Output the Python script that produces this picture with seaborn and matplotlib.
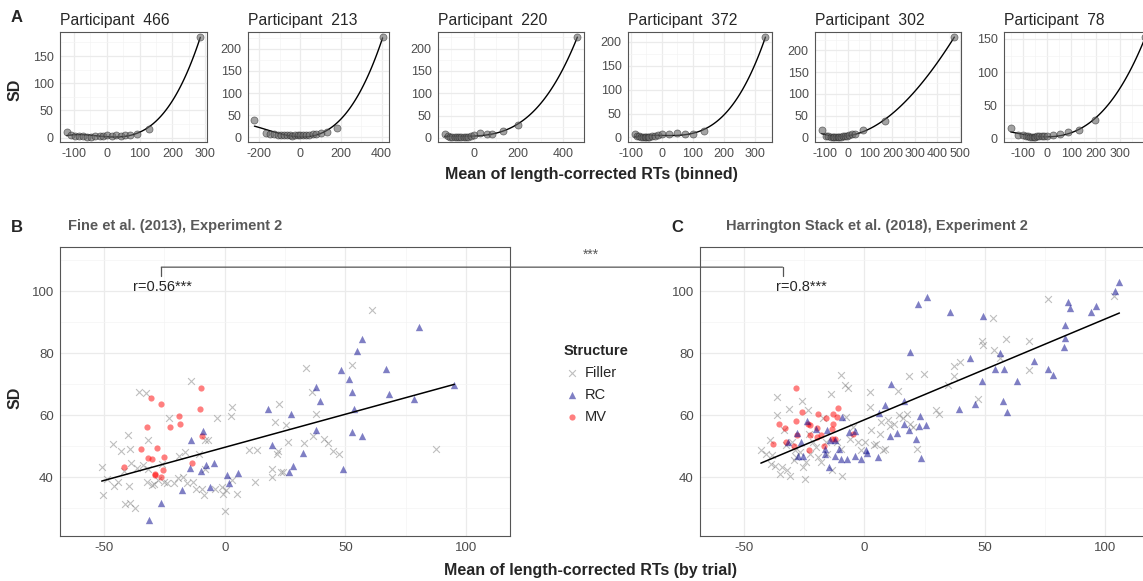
import seaborn as sns
import matplotlib.pyplot as plt
import pandas as pd
from matplotlib.patches import ConnectionPatch
from matplotlib.ticker import MultipleLocator, FixedLocator

# ---- panel A: binned mean RT vs SD, one panel per participant ----
participants = ["466", "213", "220", "372", "302", "78"]

p466_x = [-122, -110, -98, -85, -72, -60, -48, -35, -22, -10, 2, 15, 28, 42, 56, 72, 93, 128, 285]
p466_y = [10, 4, 3, 3, 3, 2, 2, 3, 3, 3, 4, 3, 4, 3, 4, 5, 7, 15, 185]

p213_x = [-225, -170, -150, -130, -110, -95, -80, -65, -50, -38, -25, -12, 0, 15, 30, 45, 62, 80, 100, 130, 180, 405]
p213_y = [38, 9, 7, 6, 5, 5, 4, 4, 4, 3, 4, 4, 4, 5, 5, 5, 6, 7, 9, 11, 20, 227]

p220_x = [-130, -115, -105, -95, -85, -75, -65, -55, -45, -35, -25, -12, 0, 30, 58, 82, 130, 198, 465]
p220_y = [9, 4, 3, 2, 2, 2, 2, 2, 2, 3, 3, 4, 6, 10, 8, 9, 16, 28, 226]

p372_x = [-88, -80, -73, -66, -60, -55, -50, -45, -40, -32, -22, -12, 0, 22, 50, 75, 100, 135, 333]
p372_y = [7, 4, 3, 2, 2, 1, 1, 2, 2, 3, 4, 5, 7, 7, 9, 7, 7, 14, 210]

p302_x = [-115, -95, -85, -75, -65, -58, -50, -43, -36, -28, -20, -12, -4, 8, 20, 35, 70, 165, 475]
p302_y = [16, 3, 3, 2, 2, 2, 1, 1, 2, 2, 3, 3, 4, 5, 7, 9, 17, 38, 231]

p78_x = [-150, -118, -100, -88, -78, -70, -62, -55, -48, -40, -32, -22, -12, 0, 24, 54, 86, 131, 197, 404]
p78_y = [15, 5, 5, 4, 3, 2, 2, 2, 2, 3, 3, 3, 4, 4, 5, 7, 9, 12, 27, 153]

# ---- panel B: Fine et al. (2013), by-trial mean vs SD ----
B_filler_x = [-51, -50.3, -48.9, -46.5, -46.1, -44.3, -43.1, -41.7, -41.3, -40.2, -39.6, -39.4, -39.2, -38.8,
              -37.2, -36.2, -35.6, -33.7, -32.6, -32.2, -32, -31.8, -30.2, -29.3, -27.8, -25.8, -25, -24,
              -23.1, -21, -19.5, -18.8, -17.1, -16.4, -15.5, -14.1, -13.3, -11.9, -10.6, -9.5, -8.7, -8.1,
              -6.8, -8, -4.1, -3, -1.2, -0.6, 0, 0.6, 2.9, 2.6, 3.2, 5.1, 10.2, 12.4, 13.3, 19.8, 19.8, 20.9,
              21.5, 22, 22.7, 23.2, 24.3, 25.4, 26.2, 33, 33.6, 36.2, 36.7, 37.8, 41.2, 42.7, 44.9, 47.2,
              52.8, 61, 87.8]
B_filler_y = [43.2, 34.1, 39.5, 50.7, 37, 38.4, 48.4, 42, 31.4, 53.5, 37, 48.9, 31.6, 44.5,
              30.1, 43, 67.5, 43.8, 67.2, 38.4, 51.9, 42.7, 37.3, 37.8, 38.9, 44.1, 38.4, 38,
              59, 38, 39.8, 46.8, 40.1, 48.1, 38, 71, 38.4, 36.2, 47.3, 36.2, 34.1, 51.9,
              51.9, 42.7, 36.2, 59.2, 36.8, 34.6, 29, 35.7, 62.6, 59.7, 38.9, 34.5, 48.6, 38.3, 48.8, 42.7, 39.9, 57.8,
              47.3, 48.3, 63.5, 41.6, 41.6, 56.8, 51.3, 51, 75.3, 67.3, 53.4, 60.3, 52.2, 51, 48.4, 47.5,
              76.1, 93.9, 49.2]
B_rc_x = [-31.2, -26.5, -17.7, -13.8, -14.2, -9.9, -9.1, -7.6, -4.6, -6.2, 0.8, 1.8, 5.5, 18, 19.8, 27.6,
          26.7, 28.3, 32.6, 37.8, 39.6, 37.8, 48.2, 48.9, 51.4, 52.6, 54.8, 56.8, 53.7, 52.6, 57, 66.9,
          68.1, 78.6, 80.7, 95.2]
B_rc_y = [26, 31.5, 35.7, 51.9, 43, 41.9, 54.8, 44, 44.6, 36.7, 40.8, 38, 41.4, 61.8, 50.2, 60.2,
          41.5, 43.7, 47.8, 69, 64.5, 55.1, 74.5, 42.7, 71.6, 67.6, 80.7, 84.4, 61.8, 54.4, 53.3, 75,
          66.7, 65.3, 88.3, 69.6]
B_mv_x = [-30.5, -26.5, -18.8, -18.5, -22.5, -32.2, -10.4, -9.7, -9.4, -34.7, -27.9, -32, -30, -25.3,
          -41.6, -13.5, -25.4, -29.1, -28.7, -26.5]
B_mv_y = [65.6, 63.6, 59.8, 57.1, 56.1, 56, 61.8, 68.6, 53.3, 48.9, 49.5, 46.1, 45.8, 46.5,
          43.3, 44.5, 42.4, 41.1, 40.8, 39.9]

# ---- panel C: Harrington Stack et al. (2018) ----
C_filler_x = [-43, -40.9, -39.2, -38.7, -38.3, -37.2, -36.2, -36.2, -35.1, -34.1, -33.4, -32.6, -32.3, -31.4,
              -30.7, -30.1, -29.4, -28.9, -28.2, -26.8, -26.1, -25.4, -24.7, -24.4, -23.3, -23.1, -22.7,
              -21.3, -20.2, -19.2, -18.2, -17.1, -16, -15.7, -13.8, -13.3, -11.3, -9.9, -9.5, -9.1, -8.1,
              -7, -7.5, -6.1, -4.7, -2.6, -1.2, 0.1, 2.2, 2.2, 2.9, 3.9, 5, 6.4, 7, 7.7, 8.7, 9.8, 10.5,
              12.2, 13.9, 14.4, 16, 17.7, 18.4, 18.8, 20.4, 21.8, 24.6, 29.8, 31.2, 34.7, 37.2, 37.4, 39.8,
              47.2, 48.8, 49.2, 53.3, 53.7, 56.5, 58.7, 68.5, 68.5, 76.5, 103.7]
C_filler_y = [48.6, 47.5, 51.9, 44.3, 47, 43.6, 65.9, 59.9, 41.1, 43.2, 55.1, 50.2, 42.2, 61.9,
              40.5, 51.3, 45.4, 48.6, 46.5, 48.1, 64.6, 43.2, 39.5, 44.8, 61.6, 54, 47.5,
              51.3, 49.7, 46.5, 44.8, 58.9, 51.3, 47.5, 66.7, 42.2, 51.3, 49.2, 72.9, 40.2, 69.6,
              68.6, 59.4, 52.4, 56.2, 51.3, 48.6, 51.3, 67.5, 62.6, 55.1, 50.2, 50.8, 54, 57.8, 48.6, 49.2, 58.3, 56.4,
              57, 67.8, 59.9, 58.9, 60.5, 72.5, 57.2, 56.2, 49.2, 73.4, 61.6, 60.3, 69.6, 75.8, 72.5, 77.2,
              65.1, 83.9, 82.6, 91.2, 80.9, 78.3, 84.4, 83.9, 74.5, 97.3, 98.4]
C_rc_x = [106, 104, 96.4, 94.2, 84.5, 85.5, 83.4, 83.3, 82.9, 70.7, 76.5, 78.2, 63.4, 57.6, 59.3, 56.2,
          54.4, 57.9, 48.8, 49.3, 44.1, 46.1, 39.5, 35.4, 26.2, 22.2, 18.8, 16.3, 11, 8.7, 6.1, 16.6,
          18.4, 10.5, 13.4, 23.2, 22.7, 25.7, 21.5, 23.6, 5.8, 0.6, 1, -1.4, -3.7, -7.2, -4, -6.4, -9.4,
          -9.8, -10.6, -12.4, -12, -14.4, -15.7, -16.4, -16.2, -14.8, -19.9, -24, -26.4, -25.4, -27.5,
          -27.9, -31.6]
C_rc_y = [103, 100.1, 95.2, 93.1, 96.6, 94.6, 89, 84.7, 82, 77.5, 74.7, 72.9, 70.9, 64.4, 61, 79.9,
          75, 75, 70.9, 92, 78.5, 63.5, 61.9, 93.1, 98.2, 95.8, 80.2, 64.6, 70, 63.1, 60.7, 57,
          55.3, 53.1, 54.2, 59.6, 56.5, 56.7, 52.4, 46.3, 46.6, 48.8, 47.8, 45.8, 46.8, 45.8, 54.9, 54.4, 59.4,
          45.7, 49.1, 46.8, 51.9, 51.9, 55.3, 48.9, 47.5, 43.4, 55.6, 58.1, 51.3, 46.8, 46.7,
          54.2, 51.3]
C_mv_x = [-28.2, -10.8, -13, -25.8, -19.3, -15.9, -11.5, -35.6, -33.1, -28.5, -23.6, -22.4, -22.4, -19.5,
          -19.5, -18.2, -13.3, -13, -13.4, -12.2, -4.6, -27.8, -32.5, -37.8, -29.3, -23.2, -16.9]
C_mv_y = [68.8, 62.4, 60.2, 60.9, 60.5, 59.2, 59.4, 57.2, 55.9, 58.1, 57.2, 56.7, 53.5, 55.9,
          52.9, 53.5, 55.4, 57.2, 52.4, 52.2, 53.8, 53.7, 51.3, 50.6, 50, 48.7, 50]

structures = ["Filler", "RC", "MV"]
struct_colors = {"Filler": "#7f7f7f", "RC": "#00008B", "MV": "#FF0000"}
struct_markers = {"Filler": "x", "RC": "^", "MV": "o"}
r_labels = ["r=0.56***", "r=0.8***"]
study_titles = ["Fine et al. (2013), Experiment 2", "Harrington Stack et al. (2018), Experiment 2"]

sns.set_style("white")
plt.rcParams["font.family"] = ["Liberation Sans", "DejaVu Sans"]
plt.rcParams["axes.unicode_minus"] = False

W, H = 1143, 581
fig = plt.figure(figsize=(W / 100, H / 100), dpi=100)


def rect(l, t, r, b):
    return [l / W, 1 - b / H, (r - l) / W, (b - t) / H]


def style_axes(ax, xstep, ystep, tick_size):
    ax.xaxis.set_major_locator(MultipleLocator(xstep))
    ax.xaxis.set_minor_locator(MultipleLocator(xstep / 2))
    ax.yaxis.set_major_locator(MultipleLocator(ystep))
    ax.yaxis.set_minor_locator(MultipleLocator(ystep / 2))
    ax.grid(which="major", color="#EBEBEB", lw=0.9)
    ax.grid(which="minor", color="#F4F4F4", lw=0.5)
    ax.set_axisbelow(True)
    for s in ax.spines.values():
        s.set_color("#555555")
        s.set_linewidth(0.8)
    ax.tick_params(which="major", length=3, width=0.6, color="#333333",
                   labelsize=tick_size, labelcolor="#4D4D4D", pad=1.5)
    ax.tick_params(which="minor", length=0)
    ax.set_xlabel("")
    ax.set_ylabel("")


# panel A layout
a_data = {"466": (p466_x, p466_y), "213": (p213_x, p213_y), "220": (p220_x, p220_y),
          "372": (p372_x, p372_y), "302": (p302_x, p302_y), "78": (p78_x, p78_y)}
a_pos = {"466": (60, 207), "213": (248, 389), "220": (438, 584),
         "372": (628, 772), "302": (815, 961), "78": (1004, 1152)}
a_xstep = {"466": 100, "213": 200, "220": 200, "372": 100, "302": 100, "78": 100}

for pid in participants:
    xs, ys = a_data[pid]
    l, r = a_pos[pid]
    ax = fig.add_axes(rect(l, 32, r, 142))
    d = pd.DataFrame({"m": xs, "sd": ys})
    sns.regplot(data=d, x="m", y="sd", order=3, ci=None, scatter=False, ax=ax,
                color="black", line_kws={"lw": 1.0})
    sns.scatterplot(data=d, x="m", y="sd", ax=ax, color="#666666", alpha=0.6, s=26,
                    edgecolor="#222222", linewidth=0.5, zorder=3)
    ax.margins(x=0.05, y=0.05)
    style_axes(ax, a_xstep[pid], 50, 9)
    if pid == "78":
        # the 400 label falls outside the figure in the original
        ax.xaxis.set_major_locator(FixedLocator([-100, 0, 100, 200, 300]))
    ax.set_title("Participant  " + pid, loc="left", fontsize=11.3, pad=5)

fig.text(17 / W, 1 - 17 / H, "A", fontsize=12, fontweight="bold", ha="center", va="center")
fig.text(15 / W, 1 - 90 / H, "SD", fontsize=11.5, fontweight="bold", rotation=90, ha="center", va="center")
fig.text(591 / W, 1 - 175 / H, "Mean of length-corrected RTs (binned)", fontsize=11.5,
         fontweight="bold", ha="center", va="center")

# panels B and C
bc_data = [
    {"Filler": (B_filler_x, B_filler_y), "RC": (B_rc_x, B_rc_y), "MV": (B_mv_x, B_mv_y)},
    {"Filler": (C_filler_x, C_filler_y), "RC": (C_rc_x, C_rc_y), "MV": (C_mv_x, C_mv_y)},
]
bc_pos = [(60, 510), (700, 1149)]
bc_axes = []
for i, panel in enumerate(bc_data):
    l, r = bc_pos[i]
    ax = fig.add_axes(rect(l, 247, r, 536))
    frames = []
    for st in ["Filler", "MV", "RC"]:
        xs, ys = panel[st]
        d = pd.DataFrame({"m": xs, "sd": ys, "Structure": st})
        frames.append(d)
        if st == "Filler":
            sns.scatterplot(data=d, x="m", y="sd", ax=ax, marker="x", color=struct_colors[st],
                            alpha=0.5, s=24, linewidth=0.8, label=st)
        else:
            sns.scatterplot(data=d, x="m", y="sd", ax=ax, marker=struct_markers[st],
                            color=struct_colors[st], alpha=0.5, s=28 if st == "RC" else 20,
                            linewidth=0, label=st)
    alld = pd.concat(frames)
    sns.regplot(data=alld, x="m", y="sd", scatter=False, ci=None, ax=ax,
                color="black", line_kws={"lw": 1.1})
    ax.set_xlim(-68.3, 118.3)
    ax.set_ylim(21, 114.2)
    style_axes(ax, 50, 20, 9.5)
    ax.text(-26, 101.3, r_labels[i], fontsize=10.5, ha="center", va="center")
    bc_axes.append(ax)

handles, labels = bc_axes[0].get_legend_handles_labels()
for ax in bc_axes:
    ax.get_legend().remove()
order = [labels.index(s) for s in structures]
fig.legend([handles[k] for k in order], [labels[k] for k in order], title="Structure",
           loc="upper left", bbox_to_anchor=(550 / W, 1 - 331 / H), frameon=False,
           fontsize=10.5, title_fontproperties={"weight": "bold", "size": 10.5},
           alignment="left", handletextpad=0.3, labelspacing=0.55, handlelength=1.2)

fig.text(17 / W, 1 - 228 / H, "B", fontsize=12, fontweight="bold", ha="center", va="center")
fig.text(677 / W, 1 - 228 / H, "C", fontsize=12, fontweight="bold", ha="center", va="center")
fig.text(68 / W, 1 - 226 / H, study_titles[0], fontsize=10.5, fontweight="bold", color="#595959",
         ha="left", va="center")
fig.text(726 / W, 1 - 226 / H, study_titles[1], fontsize=10.5, fontweight="bold", color="#595959",
         ha="left", va="center")
fig.text(15 / W, 1 - 398 / H, "SD", fontsize=11.5, fontweight="bold", rotation=90, ha="center", va="center")
fig.text(591 / W, 1 - 570 / H, "Mean of length-corrected RTs (by trial)", fontsize=11.5,
         fontweight="bold", ha="center", va="center")

# significance bracket between the two correlations
axB, axC = bc_axes
axB.plot([-26.3, -26.3], [104.8, 107.7], color="#555555", lw=0.9, clip_on=False)
axC.plot([-34, -34], [104.8, 107.7], color="#555555", lw=0.9, clip_on=False)
con = ConnectionPatch(xyA=(-26.3, 107.7), coordsA=axB.transData, xyB=(-34, 107.7),
                      coordsB=axC.transData, color="#555555", lw=0.9)
fig.add_artist(con)
fig.text(591 / W, 1 - 255 / H, "***", fontsize=10, color="#595959", ha="center", va="center")

fig.savefig("out.png", dpi=100)
